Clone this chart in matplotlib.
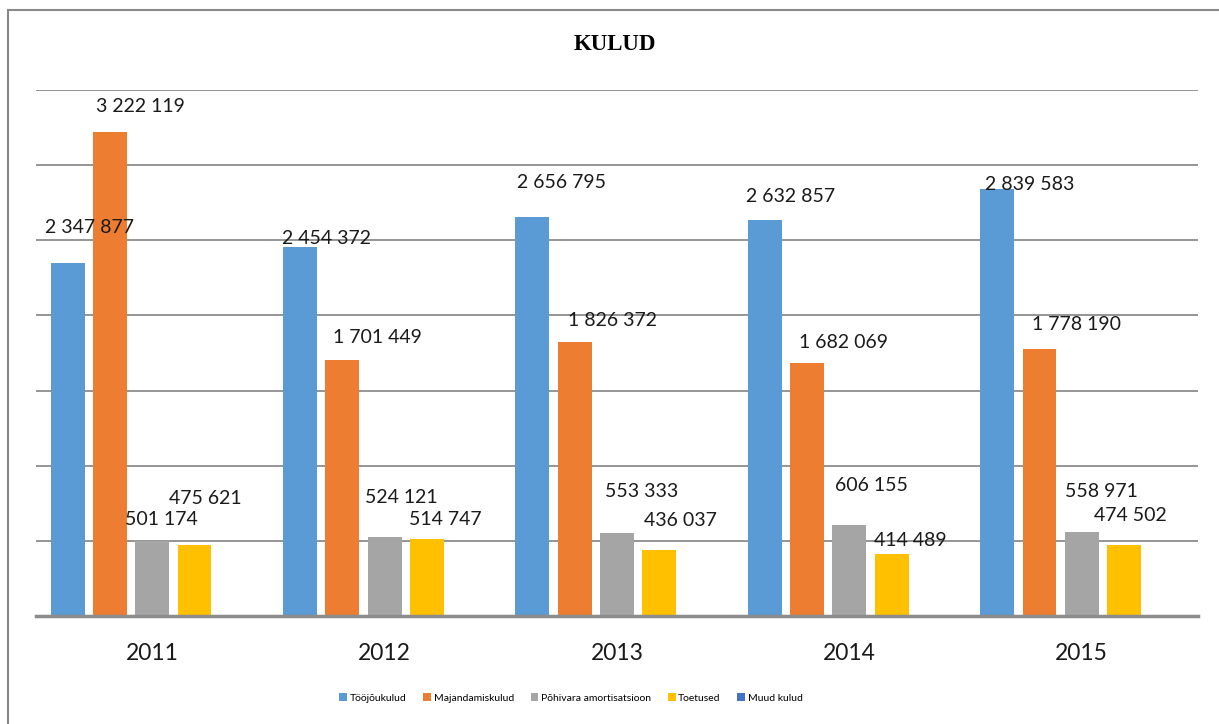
import numpy as np
import matplotlib.pyplot as plt
from matplotlib.patches import Patch
from matplotlib.lines import Line2D

years = ["2011", "2012", "2013", "2014", "2015"]
series_names = ["Tööjõukulud", "Majandamiskulud", "Põhivara amortisatsioon", "Toetused", "Muud kulud"]
toojoukulud = [2347877, 2454372, 2656795, 2632857, 2839583]
majandamiskulud = [3222119, 1701449, 1826372, 1682069, 1778190]
pohivara = [501174, 524121, 553333, 606155, 558971]
toetused = [475621, 514747, 436037, 414489, 474502]
muud_kulud = [0, 0, 0, 0, 0]

colors = ["#5B9BD5", "#ED7D31", "#A5A5A5", "#FFC000", "#4472C4"]

# label offsets (pixels) from the bar top centre, as Excel left them
label_dx = [
    [22, 31, 9, 11],
    [26, 35, 17, 18],
    [29, 38, 25, 21],
    [26, 36, 22, 19],
    [32, 37, 20, 6],
]
label_dy = [
    [36, 25, 21, 46],
    [9, 23, 40, 19],
    [34, 21, 41, 30],
    [24, 21, 39, 13],
    [5, 24, 40, 29],
]

W, H = 1219, 724
fig = plt.figure(figsize=(W / 100, H / 100), dpi=100)
# outer chart border (only top and left fall inside the picture)
fig.lines.append(Line2D([8 / W, 1.01], [1 - 10 / H] * 2, transform=fig.transFigure,
                        color="#898989", linewidth=1.5))
fig.lines.append(Line2D([8 / W] * 2, [-0.01, 1 - 10 / H], transform=fig.transFigure,
                        color="#898989", linewidth=1.5))

ax = fig.add_axes([36 / W, (H - 616) / H, (1198 - 36) / W, (616 - 90) / H])

data = [toojoukulud, majandamiskulud, pohivara, toetused, muud_kulud]
x = np.arange(len(years))
slot = 0.182
width = 0.146
for i, vals in enumerate(data):
    pos = x + (i - 2) * slot
    bars = ax.bar(pos, vals, width=width, color=colors[i], zorder=3)
    if i < 4:
        for j, (b, v) in enumerate(zip(bars, vals)):
            ax.annotate(f"{v:,}".replace(",", " "),
                        (b.get_x() + b.get_width() / 2, v),
                        xytext=(label_dx[j][i], label_dy[j][i]),
                        textcoords="offset pixels", ha="center", va="center",
                        fontsize=14, family="Lato", color="#1a1a1a", zorder=4)

ax.set_xlim(-0.5, len(years) - 0.5)
ax.set_ylim(0, 3500000)
ax.set_yticks(np.arange(0, 3500001, 500000))
ax.yaxis.grid(True, color="#8c8c8c", linewidth=1.3, zorder=0)
ax.tick_params(axis="y", left=False, labelleft=False)
ax.tick_params(axis="x", bottom=False, pad=16)
ax.set_xticks(x)
ax.set_xticklabels(years, fontsize=16.5, family="Lato", color="#1a1a1a")
for s in ["left", "right", "top"]:
    ax.spines[s].set_visible(False)
ax.spines["bottom"].set_color("#8c8c8c")
ax.spines["bottom"].set_linewidth(2.5)
ax.spines["bottom"].set_zorder(5)

fig.text(615 / W, 1 - 45 / H, "KULUD", ha="center", va="center",
         fontsize=16.5, fontweight="bold", family="Liberation Serif")

handles = [Patch(facecolor=c, edgecolor="none") for c in colors]
fig.legend(handles, series_names, loc="center", bbox_to_anchor=(571 / W, 1 - 698 / H),
           ncol=5, frameon=False, handlelength=0.75, handleheight=0.75,
           handletextpad=0.25, columnspacing=1.6, prop={"family": "Lato", "size": 7.5})

fig.savefig("out.png", dpi=100)
